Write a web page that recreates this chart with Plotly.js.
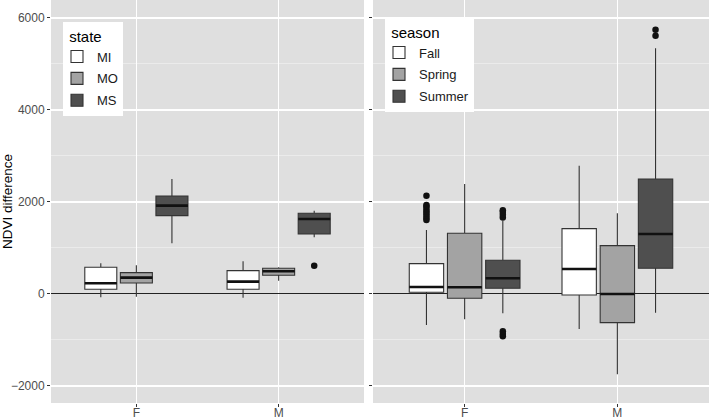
<!DOCTYPE html>
<html>
<head>
<meta charset="utf-8">
<script src="https://cdn.plot.ly/plotly-3.0.1.min.js"></script>
<style>html,body{margin:0;padding:0;background:#fff;}#chart{width:709px;height:419px;}</style>
</head>
<body>
<div id="chart"></div>
<script>
// Categories
const cats = ['F', 'M'];

// Left panel: state (rows MI, MO, MS; columns F, M)
const states = ['MI', 'MO', 'MS'];
const stateQ1  = [[102, 102], [239, 406], [1703, 1304]];
const stateMed = [[232, 268], [355, 493], [1920, 1630]];
const stateQ3  = [[580, 507], [464, 558], [2130, 1754]];
const stateLo  = [[-72, -80], [-58, 290], [1101, 1232]];
const stateHi  = [[667, 710], [623, 580], [2500, 1811]];
const stateOut = [[[], []], [[], []], [[], [616]]];

// Right panel: season (rows Fall, Spring, Summer; columns F, M)
const seasons = ['Fall', 'Spring', 'Summer'];
const seasonQ1  = [[37, -22], [-94, -623], [123, 558]];
const seasonMed = [[152, 543], [145, 0], [341, 1304]];
const seasonQ3  = [[659, 1420], [1319, 1051], [732, 2500]];
const seasonLo  = [[-674, -761], [-551, -1746], [-420, -406]];
const seasonHi  = [[1391, 2790], [2391, 1754], [1594, 5341]];
const seasonOut = [
  [[1610, 1650, 1700, 1750, 1800, 1850, 1900, 1935, 2137], []],
  [[], []],
  [[1660, 1720, 1780, 1820, -810, -870, -920], [5616, 5746]]
];

const fills = ['#FFFFFF', '#A3A3A3', '#4F4F4F'];
const FONT = 'Liberation Sans, Arial, sans-serif';

const traces = [];
function addPanel(names, q1, med, q3, lo, hi, out, xa, ya, legendId) {
  names.forEach((nm, i) => {
    // sample per box: the median (inside the fences, never drawn) plus the outliers
    const sample = out[i].map((o, j) => [med[i][j]].concat(o));
    traces.push({
      type: 'box', name: nm, x: cats, y: sample,
      q1: q1[i], median: med[i], q3: q3[i], lowerfence: lo[i], upperfence: hi[i],
      xaxis: xa, yaxis: ya, legend: legendId, legendgroup: nm, offsetgroup: nm,
      fillcolor: fills[i], line: {color: '#333333', width: 1.1},
      whiskerwidth: 0, boxpoints: 'outliers', jitter: 0, pointpos: 0,
      marker: {color: '#111111', size: 6.5, outliercolor: '#111111', line: {width: 0}},
      hoverinfo: 'skip'
    });
  });
  // thicker median lines overlaid in the same offset groups
  names.forEach((nm, i) => {
    traces.push({
      type: 'box', name: nm, x: cats,
      q1: med[i], median: med[i], q3: med[i], lowerfence: med[i], upperfence: med[i],
      xaxis: xa, yaxis: ya, legend: legendId, legendgroup: nm, offsetgroup: nm, showlegend: false,
      fillcolor: 'rgba(0,0,0,0)', line: {color: '#111111', width: 2.6},
      whiskerwidth: 0, boxpoints: false, hoverinfo: 'skip'
    });
  });
}
addPanel(states, stateQ1, stateMed, stateQ3, stateLo, stateHi, stateOut, 'x', 'y', 'legend');
addPanel(seasons, seasonQ1, seasonMed, seasonQ3, seasonLo, seasonHi, seasonOut, 'x2', 'y2', 'legend2');

const yRange = [-2370, 6391];
const yCommon = {
  range: yRange, tick0: 0, dtick: 2000, showgrid: true, gridcolor: '#FFFFFF', gridwidth: 1.1,
  minor: {showgrid: true, dtick: 1000, tick0: 0, gridcolor: 'rgba(255,255,255,0.65)', gridwidth: 0.6},
  zeroline: true, zerolinecolor: '#222222', zerolinewidth: 1,
  ticks: 'outside', ticklen: 3, tickcolor: '#333333', tickwidth: 1,
  tickfont: {family: FONT, size: 12, color: '#4D4D4D'}, showline: false, fixedrange: true
};
const xCommon = {
  type: 'category', categoryorder: 'array', categoryarray: cats, range: [-0.6, 1.6],
  showgrid: true, gridcolor: '#FFFFFF', gridwidth: 1.1, zeroline: false,
  ticks: 'outside', ticklen: 3, tickcolor: '#333333', tickwidth: 1, ticklabelstandoff: -4,
  tickfont: {family: FONT, size: 12, color: '#4D4D4D'}, showline: false
};
const legendCommon = {
  bgcolor: '#FFFFFF', borderwidth: 0, xanchor: 'left', yanchor: 'top',
  font: {family: FONT, size: 13, color: '#1A1A1A'},
  tracegroupgap: 2, indentation: -6,
  itemclick: false, itemdoubleclick: false
};
const legendTitleFont = {family: FONT, size: 15, color: '#000000'};

const layout = {
  width: 709, height: 419,
  margin: {l: 51, r: 0, t: 0, b: 16},
  paper_bgcolor: '#FFFFFF', plot_bgcolor: '#DFDFDF',
  font: {family: FONT},
  boxmode: 'group', boxgap: 0.25, boxgroupgap: 0.1,
  showlegend: true,
  xaxis: Object.assign({}, xCommon, {domain: [0, 313 / 658], anchor: 'y'}),
  xaxis2: Object.assign({}, xCommon, {domain: [322 / 658, 1], anchor: 'y2'}),
  yaxis: Object.assign({}, yCommon, {anchor: 'x',
    title: {text: 'NDVI difference', font: {family: FONT, size: 13.5, color: '#000000'}, standoff: 0}}),
  yaxis2: Object.assign({}, yCommon, {anchor: 'x2', showticklabels: false}),
  legend: Object.assign({}, legendCommon, {x: 12 / 658, y: 1 - 22 / 403,
    title: {text: '\u00a0state', font: legendTitleFont}}),
  legend2: Object.assign({}, legendCommon, {x: 334 / 658, y: 1 - 18 / 403,
    title: {text: '\u00a0season', font: legendTitleFont}})
};

Plotly.newPlot('chart', traces, layout, {displayModeBar: false, staticPlot: true});
</script>
</body>
</html>
